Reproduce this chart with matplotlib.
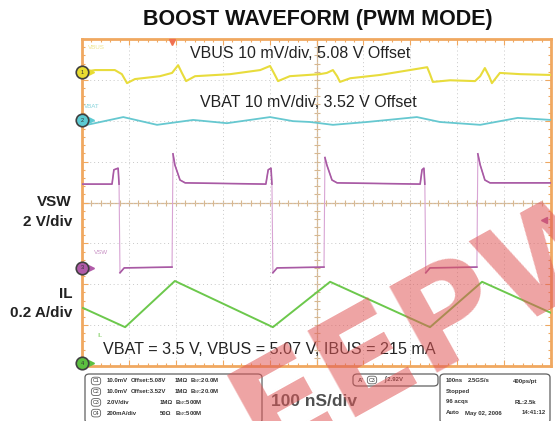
import numpy as np
import matplotlib
matplotlib.use("Agg")
import matplotlib.pyplot as plt
from matplotlib.patches import FancyBboxPatch

plt.rcParams['font.family'] = ['Liberation Sans', 'DejaVu Sans']

# trace key points, in scope divisions (x: 0..10, y: 0..8)
vbus_x = [0.00, 0.28, 0.70, 0.85, 0.96, 1.13, 1.66, 1.92, 2.05, 2.13, 2.22, 2.41, 3.16, 3.80,
          4.01, 4.09, 4.18, 4.43, 5.07, 5.22, 5.35, 5.44, 5.50, 5.72, 6.35, 6.99, 7.36, 7.42,
          7.48, 7.85, 8.38, 8.49, 8.59, 8.68, 8.74, 8.91, 9.34, 10.0]
vbus_y = [7.19, 7.24, 7.24, 7.14, 6.92, 7.02, 7.09, 7.17, 7.36, 7.17, 6.97, 7.09, 7.14, 7.24,
          7.34, 7.17, 6.97, 7.09, 7.14, 7.17, 7.24, 7.09, 6.95, 7.04, 7.12, 7.24, 7.31, 7.14,
          6.95, 6.99, 6.97, 7.09, 7.29, 7.09, 6.92, 7.17, 7.14, 7.12]

vbat_x = [0.00, 0.11, 0.88, 1.60, 2.37, 3.09, 4.01, 4.50, 4.86, 5.35, 6.08, 7.14, 7.63, 8.49, 9.29, 10.0]
vbat_y = [5.94, 5.90, 6.09, 5.90, 6.02, 5.94, 6.09, 5.99, 5.97, 5.90, 5.97, 6.09, 5.97, 5.90, 6.07, 6.02]

vsw_x = [0.00, 0.64, 0.68, 0.77, 0.79, 0.81, 0.90, 1.92, 1.94, 1.98, 2.09, 2.20,
         3.92, 3.97, 4.03, 4.05, 4.07, 4.16, 5.16, 5.18, 5.22, 5.33, 5.44,
         7.21, 7.25, 7.29, 7.31, 7.33, 7.42, 8.42, 8.44, 8.49, 8.59, 8.70, 10.0]
vsw_y = [4.45, 4.45, 4.80, 4.84, 4.45, 2.28, 2.40, 2.42, 5.19, 4.92, 4.55, 4.48,
         4.45, 4.80, 4.84, 4.45, 2.28, 2.40, 2.42, 5.10, 4.92, 4.55, 4.48,
         4.45, 4.80, 4.84, 4.45, 2.28, 2.40, 2.42, 5.19, 4.92, 4.55, 4.48, 4.48]

il_x = [0.02, 0.92, 1.98, 4.07, 5.29, 7.42, 8.53, 10.0]
il_y = [1.42, 0.95, 2.08, 0.95, 2.06, 0.95, 2.06, 1.30]

# channel ground markers (div)
marker_y = [7.19, 6.01, 2.40, 0.07]
marker_col = ['#e8dc30', '#5ccad2', '#b05aa8', '#5cc040']
marker_txt = ['1', '2', '3', '4']

fig = plt.figure(figsize=(5.55, 4.21), dpi=100)
ax = fig.add_axes([82 / 555, 55 / 421, 469 / 555, 327 / 421])
ax.set_xlim(0, 10)
ax.set_ylim(0, 8)

# grid
ax.set_xticks(np.arange(0, 11, 1))
ax.set_yticks(np.arange(0, 9, 1))
ax.set_xticks(np.arange(0, 10.01, 0.2), minor=True)
ax.set_yticks(np.arange(0, 8.01, 0.2), minor=True)
ax.grid(True, which='major', color='#c8c8c8', lw=0.7, ls=(0, (1, 3)))
ax.tick_params(which='both', direction='in', top=True, right=True, color='#f0a860',
               labelbottom=False, labelleft=False)
ax.tick_params(which='major', length=4, width=0.8)
ax.tick_params(which='minor', length=2.5, width=0.8)
for s in ax.spines.values():
    s.set_color('#f0a860')
    s.set_linewidth(2)

# center crosshair
ax.axhline(4, color='#d8b890', lw=0.9, zorder=1)
ax.axvline(5, color='#d8b890', lw=0.9, zorder=1)
tk = np.arange(0, 10.01, 0.2)
ax.plot(tk, np.full(tk.size, 4), ls='none', marker='|', ms=4, mew=0.8, color='#d8b890', zorder=1)
tk = np.arange(0, 8.01, 0.2)
ax.plot(np.full(tk.size, 5), tk, ls='none', marker='_', ms=4, mew=0.8, color='#d8b890', zorder=1)

# traces
ax.plot(vbus_x, vbus_y, color='#e8dc3c', lw=1.5, zorder=3)
ax.plot(vbat_x, vbat_y, color='#66c8d0', lw=1.3, zorder=3)
ax.plot(vsw_x, vsw_y, color='#d8a4d4', lw=0.8, zorder=3)
# level parts of the switch node drawn stronger than the fast edges
vx = np.array(vsw_x)
vy = np.array(vsw_y)
for a, b in [(0, 5), (5, 8), (8, 16), (16, 19), (19, 27), (27, 30), (30, 35)]:
    ax.plot(vx[a:b], vy[a:b], color='#a85aa4', lw=1.2, zorder=3)
ax.plot(il_x, il_y, color='#6cc84c', lw=1.4, zorder=3)

# channel names
ax.text(0.12, 7.75, 'VBUS', fontsize=4.5, color='#eee48a')
ax.text(0.05, 6.3, 'VBAT', fontsize=4.5, color='#88d4dc')
ax.text(0.25, 2.75, 'VSW', fontsize=4.5, color='#c890c4')
ax.text(0.33, 0.7, 'IL', fontsize=4.5, color='#8cd470')

# ground markers
for yy, cc, tt in zip(marker_y, marker_col, marker_txt):
    ax.plot([0.2], [yy], marker='>', ms=5, color=cc, clip_on=False, zorder=6)
    ax.plot([0], [yy], marker='o', ms=9, mfc=cc, mec='#404040', mew=1.2, clip_on=False, zorder=7)
    ax.text(0, yy, tt, fontsize=4, ha='center', va='center', color='#303030', zorder=8, clip_on=False)

# trigger markers
ax.plot([1.92], [7.92], marker='v', ms=5, color='#f07050', clip_on=False, zorder=6)
ax.plot([9.85], [3.57], marker='<', ms=4, color='#b05aa8', clip_on=False, zorder=6)

# annotations inside the screen
ax.text(4.65, 7.65, 'VBUS 10 mV/div, 5.08 V Offset', fontsize=11.5, ha='center', va='center', color='#222222', zorder=5)
ax.text(4.82, 6.45, 'VBAT 10 mV/div, 3.52 V Offset', fontsize=11.5, ha='center', va='center', color='#222222', zorder=5)
ax.text(0.45, 0.4, 'VBAT = 3.5 V, VBUS = 5.07 V, IBUS = 215 mA', fontsize=11.6, ha='left', va='center', color='#222222', zorder=5)

# outside labels
fig.text(318 / 555, 1 - 20 / 421, 'BOOST WAVEFORM (PWM MODE)', fontsize=15.5,
         fontweight='bold', ha='center', va='center', color='#111111')
fig.text(72 / 555, 1 - 202 / 421, 'VSW', fontsize=11, fontweight='bold', ha='right', va='center', color='#222222')
fig.text(72 / 555, 1 - 222 / 421, '2 V/div', fontsize=11, fontweight='bold', ha='right', va='center', color='#222222')
fig.text(72 / 555, 1 - 294 / 421, 'IL', fontsize=11, fontweight='bold', ha='right', va='center', color='#222222')
fig.text(72 / 555, 1 - 313 / 421, '0.2 A/div', fontsize=11, fontweight='bold', ha='right', va='center', color='#222222')
fig.text(314 / 555, 1 - 402 / 421, '100 nS/div', fontsize=12.5, fontweight='bold', ha='center', va='center', color='#505050')

# info boxes at bottom
def box(x0, y0, x1, y1):
    p = FancyBboxPatch((x0 / 555, 1 - y1 / 421), (x1 - x0) / 555, (y1 - y0) / 421,
                       boxstyle='round,pad=0,rounding_size=0.008', transform=fig.transFigure,
                       fc='white', ec='#606060', lw=0.9)
    fig.patches.append(p)

def small(x, y, s):
    fig.text(x / 555, 1 - y / 421, s, fontsize=4.3, fontweight='bold', ha='left', va='center', color='#333333')

def pill(x, y, s):
    fig.text(x / 555, 1 - y / 421, s, fontsize=3.8, ha='center', va='center', color='#333333',
             bbox=dict(boxstyle='round,pad=0.25,rounding_size=0.6', fc='white', ec='#606060', lw=0.6))

box(85, 374, 262, 423)
rows1 = [('C1', '10.0mV', 'Offset:5.08V', '1MΩ', 'B$_W$:20.0M'),
         ('C2', '10.0mV', 'Offset:3.52V', '1MΩ', 'B$_W$:20.0M'),
         ('C3', '2.0V/div', '', '1MΩ', 'B$_W$:500M'),
         ('C4', '200mA/div', '', '50Ω', 'B$_W$:500M')]
for i, r in enumerate(rows1):
    yy = 381 + i * 10.7
    pill(96, yy, r[0])
    small(107, yy, r[1])
    small(131, yy, r[2])
    small(175 if r[2] else 160, yy, r[3])
    small(190 if r[2] else 175, yy, r[4])

box(353, 374, 438, 386)
small(358, 380, "A'")
pill(372, 380, 'C3')
small(384, 380, '∫ 2.92V')

box(440, 374, 550, 423)
small(446, 381, '100ns')
small(468, 381, '2.5GS/s')
small(513, 381, '400ps/pt')
small(446, 392, 'Stopped')
small(446, 402, '96 acqs')
small(515, 402, 'RL:2.5k')
small(446, 413, 'Auto')
small(465, 413, 'May 02, 2006')
small(522, 413, '14:41:12')

# watermark
fig.text(262 / 555, 1 - 462 / 421, 'EEPW', fontsize=98, fontweight='heavy', family='DejaVu Sans',
         rotation=29, rotation_mode='anchor', ha='left', va='baseline', color='#e05858', alpha=0.55, zorder=20)

fig.savefig('out.png', dpi=100)
